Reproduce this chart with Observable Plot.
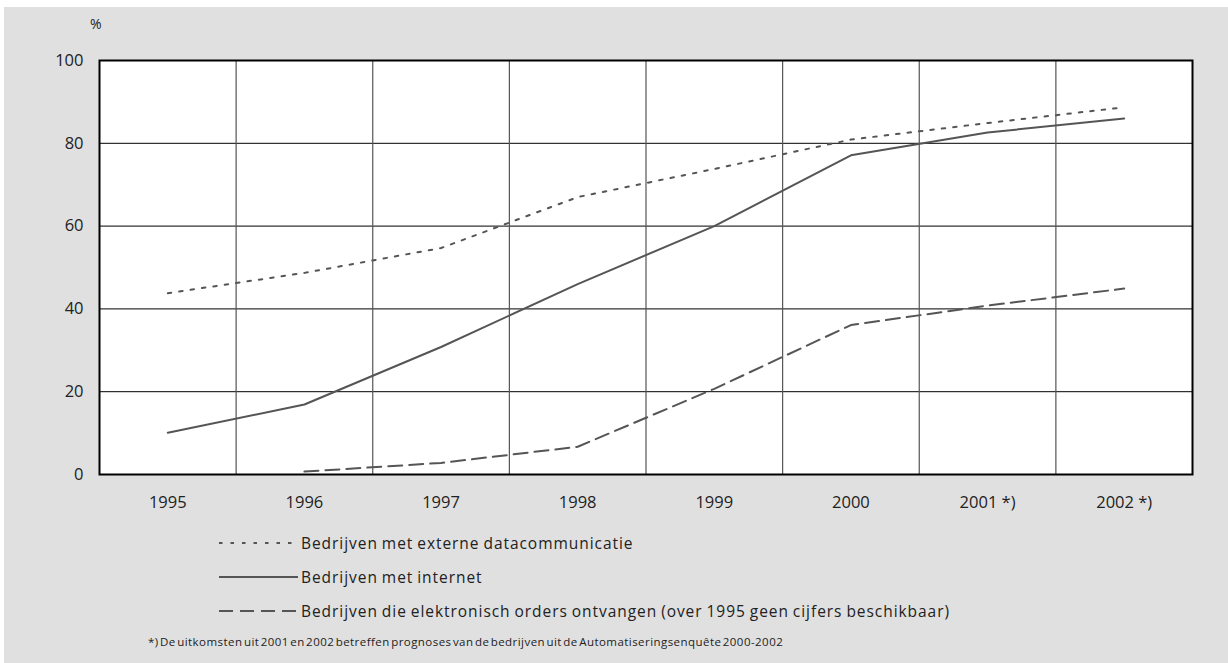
<!DOCTYPE html>
<html>
<head>
<meta charset="utf-8">
<script src="https://cdn.jsdelivr.net/npm/d3@7"></script>
<script src="https://cdn.jsdelivr.net/npm/@observablehq/plot@0.6"></script>
<style>
  html, body { margin: 0; padding: 0; background: #ffffff; }
  body { width: 1228px; height: 663px; position: relative; overflow: hidden; font-family: "Open Sans", "Liberation Sans", Arial, sans-serif; color: #222; }
  #panel { position: absolute; left: 4px; top: 7px; width: 1224px; height: 656px; background: #e0e0e0; }
  #chart { position: absolute; left: 0; top: 0; }
  .pct { position: absolute; left: 86px; top: 7px; font-size: 14px; }
  .legend { position: absolute; left: 214px; font-size: 15.5px; letter-spacing: 0.95px; word-spacing: -1px; display: flex; align-items: center; white-space: nowrap; }
  .legend svg { margin-right: 3px; }
  .note { position: absolute; left: 144px; top: 627px; font-size: 11.5px; letter-spacing: 0.45px; white-space: nowrap; word-spacing: -2px; }
</style>
</head>
<body>
<div id="panel">
  <div id="chart"></div>
  <div class="pct">%</div>
  <div class="legend" id="leg0" style="top:525px"></div>
  <div class="legend" id="leg1" style="top:559px"></div>
  <div class="legend" id="leg2" style="top:593px"></div>
  <div class="note">*) De uitkomsten uit 2001 en 2002 betreffen prognoses van de bedrijven uit de Automatiseringsenquête 2000-2002</div>
</div>
<script>
// ---- data ----
const years = ["1995", "1996", "1997", "1998", "1999", "2000", "2001 *)", "2002 *)"];
const externeData = [43.8, 48.7, 54.7, 67.0, 73.8, 80.9, 84.9, 88.7];
const internet = [10.1, 16.9, 30.8, 46.0, 60.0, 77.1, 82.6, 86.0];
const orders = [null, 0.7, 2.8, 6.7, 20.7, 36.1, 40.8, 44.9];
const seriesNames = [
  "Bedrijven met externe datacommunicatie",
  "Bedrijven met internet",
  "Bedrijven die elektronisch orders ontvangen (over 1995 geen cijfers beschikbaar)"
];
const yTicks = [0, 20, 40, 60, 80, 100];

// ---- styles ----
const lineColor = "#555555";
const dashes = ["3.5,8", null, "14,7"];

const idx = d3.range(years.length);
const rows = (vals) => idx.filter(i => vals[i] != null).map(i => ({i, v: vals[i]}));
const seriesVals = [externeData, internet, orders];

const chart = Plot.plot({
  width: 1224,
  height: 520,
  marginLeft: 95,
  marginRight: 36,
  marginTop: 53,
  marginBottom: 53,
  style: {background: "transparent", fontFamily: "'Open Sans', 'Liberation Sans', Arial, sans-serif", color: "#222"},
  x: {domain: [-0.5, years.length - 0.5]},
  y: {domain: [0, 100]},
  marks: [
    Plot.rect([0], {x1: -0.5, x2: years.length - 0.5, y1: 0, y2: 100, fill: "#ffffff"}),
    Plot.ruleY(yTicks.filter(t => t > 0 && t < 100), {stroke: "#000", strokeWidth: 1}),
    Plot.ruleX(idx.slice(1).map(i => i - 0.5), {stroke: "#555", strokeWidth: 1.2}),
    ...seriesVals.map((vals, k) =>
      Plot.line(rows(vals), {x: "i", y: "v", stroke: lineColor, strokeWidth: 2, strokeDasharray: dashes[k]})
    ),
    Plot.frame({stroke: "#000", strokeWidth: 2}),
    Plot.axisY(yTicks, {tickSize: 0, tickPadding: 16, fontSize: 16.5, label: null}),
    Plot.axisX(idx, {tickSize: 0, tickPadding: 22, fontSize: 16.5, tickFormat: i => years[i], label: null})
  ]
});
document.getElementById("chart").appendChild(chart);

// ---- legend ----
seriesNames.forEach((name, k) => {
  const el = document.getElementById("leg" + k);
  const s = d3.create("svg").attr("width", 80).attr("height", 10);
  s.append("line").attr("x1", 1).attr("x2", 80).attr("y1", 5).attr("y2", 5)
    .attr("stroke", lineColor).attr("stroke-width", 2)
    .attr("stroke-dasharray", dashes[k]);
  el.appendChild(s.node());
  const t = document.createElement("span");
  t.textContent = name;
  el.appendChild(t);
});
</script>
</body>
</html>
